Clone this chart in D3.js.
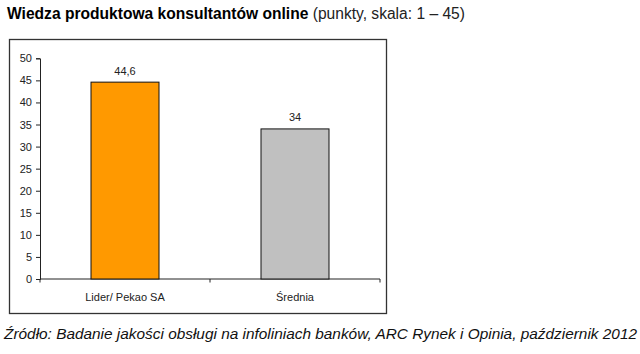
<!DOCTYPE html>
<html><head><meta charset="utf-8">
<script src="https://cdn.jsdelivr.net/npm/d3@7"></script>
<style>body{margin:0;background:#fff;} svg{display:block;font-family:"Liberation Sans",Arial,sans-serif;}</style>
</head><body>
<svg id="c" width="640" height="354"></svg>
<script>
const categories = ["Lider/ Pekao SA", "Średnia"];
const values = [44.6, 34];
const valueLabels = ["44,6", "34"];
const barColors = ["#FF9900", "#C0C0C0"];
const yTicks = [0, 5, 10, 15, 20, 25, 30, 35, 40, 45, 50];
const titleBold = "Wiedza produktowa konsultantów online";
const titleNormal = " (punkty, skala: 1 – 45)";
const source = "Źródło: Badanie jakości obsługi na infoliniach banków, ARC Rynek i Opinia, październik 2012";

const svg = d3.select("#c");
const x = d3.scaleBand().domain(categories).range([40, 380]).padding(0);
const y = d3.scaleLinear().domain([0, 50]).range([279, 58.3]);

// title
const t = svg.append("text").attr("x", 7).attr("y", 18.5).attr("font-size", 15.6).attr("fill", "#000");
t.append("tspan").attr("font-weight", "bold").text(titleBold);
t.append("tspan").attr("fill", "#222").text(titleNormal);

// frame
svg.append("rect").attr("x", 9.5).attr("y", 39.5).attr("width", 377).attr("height", 274)
  .attr("fill", "#fff").attr("stroke", "#333").attr("stroke-width", 1.3);

// y axis
const ya = svg.append("g").attr("transform", "translate(40,0)")
  .call(d3.axisLeft(y).tickValues(yTicks).tickSize(4).tickPadding(4).tickFormat(d3.format("d")));
ya.select(".domain").attr("stroke", "#222");
ya.selectAll(".tick line").attr("stroke", "#222");
ya.selectAll(".tick text").attr("font-size", 11).attr("fill", "#222").attr("font-family", "Liberation Sans, Arial, sans-serif");

// x axis
const xa = svg.append("g").attr("transform", "translate(0,279)")
  .call(d3.axisBottom(x).tickSize(0).tickPadding(0).tickFormat(""));
xa.select(".domain").attr("stroke", "#222").attr("d", "M40,0H380");
xa.selectAll(".tick").remove();
const boundaries = [0, ...categories.map((c, i) => i + 1)];
xa.selectAll(".bt").data(boundaries).enter().append("line")
  .attr("x1", (d, i) => i < categories.length ? x(categories[i]) : x(categories[i - 1]) + x.bandwidth())
  .attr("x2", (d, i) => i < categories.length ? x(categories[i]) : x(categories[i - 1]) + x.bandwidth())
  .attr("y1", 0).attr("y2", 3.5).attr("stroke", "#222");

// bars
const bw = x.bandwidth() * 0.4;
svg.selectAll(".bar").data(values).enter().append("rect")
  .attr("x", (d, i) => x(categories[i]) + x.bandwidth() / 2 - bw / 2)
  .attr("y", d => y(d))
  .attr("width", bw)
  .attr("height", d => y(0) - y(d))
  .attr("fill", (d, i) => barColors[i])
  .attr("stroke", "#111").attr("stroke-width", 1);

// value labels
svg.selectAll(".vl").data(values).enter().append("text")
  .attr("x", (d, i) => x(categories[i]) + x.bandwidth() / 2)
  .attr("y", d => y(d) - 7.5)
  .attr("text-anchor", "middle").attr("font-size", 11).attr("fill", "#222")
  .text((d, i) => valueLabels[i]);

// category labels
svg.selectAll(".cl").data(categories).enter().append("text")
  .attr("x", d => x(d) + x.bandwidth() / 2)
  .attr("y", 301)
  .attr("text-anchor", "middle").attr("font-size", 11).attr("fill", "#222")
  .text(d => d);

// source
svg.append("text").attr("x", 4).attr("y", 339).attr("font-size", 15)
  .attr("textLength", 633).attr("lengthAdjust", "spacingAndGlyphs")
  .attr("font-style", "italic").attr("fill", "#111").text(source);
</script>
</body></html>
